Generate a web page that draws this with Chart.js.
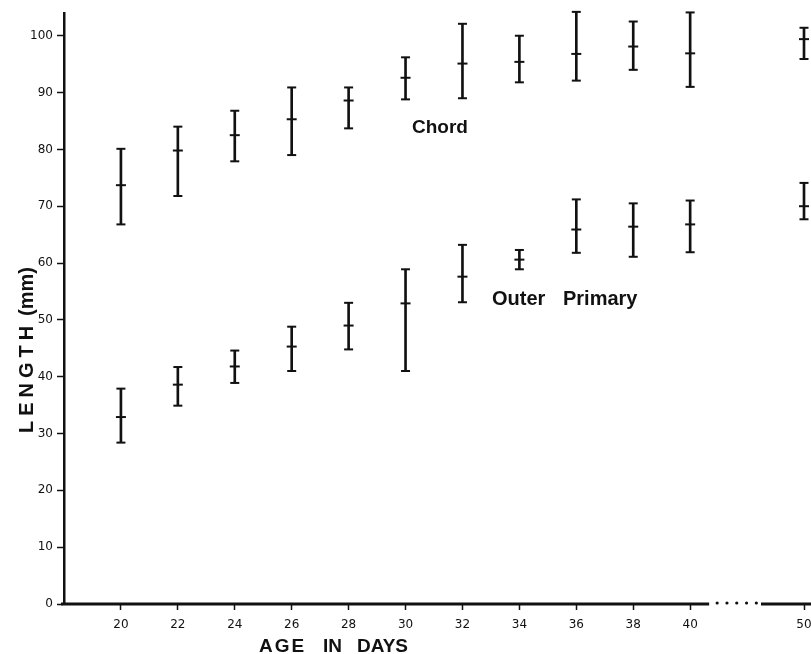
<!DOCTYPE html>
<html>
<head>
<meta charset="utf-8">
<script src="https://cdn.jsdelivr.net/npm/chart.js@4.4.0/dist/chart.umd.min.js"></script>
<style>
  html, body { margin: 0; padding: 0; background: #fff; }
  #wrap { width: 811px; height: 654px; }
</style>
</head>
<body>
<div id="wrap"><canvas id="c" width="811" height="654"></canvas></div>
<script>
// ---- data ----
const xLabels = ['', '20', '22', '24', '26', '28', '30', '32', '34', '36', '38', '40', '', '50'];
const days = ['20', '22', '24', '26', '28', '30', '32', '34', '36', '38', '40', '50'];

const chordMean = [73.7, 79.8, 82.5, 85.3, 88.6, 92.6, 95.1, 95.4, 96.8, 98.1, 96.9, 99.4];
const chordHigh = [80.1, 84.0, 86.8, 90.9, 90.9, 96.2, 102.1, 100.0, 104.2, 102.5, 104.1, 101.4];
const chordLow  = [66.8, 71.8, 77.9, 79.0, 83.7, 88.8, 89.0, 91.8, 92.1, 94.0, 91.0, 95.9];

const outerMean = [32.9, 38.6, 41.8, 45.3, 49.0, 52.9, 57.6, 60.6, 65.9, 66.4, 66.8, 70.0];
const outerHigh = [37.9, 41.7, 44.6, 48.8, 53.0, 58.9, 63.2, 62.3, 71.2, 70.5, 71.0, 74.1];
const outerLow  = [28.4, 34.9, 38.9, 41.0, 44.8, 41.0, 53.1, 58.9, 61.8, 61.1, 61.9, 67.7];

const yTicks = [0, 10, 20, 30, 40, 50, 60, 70, 80, 90, 100];

// ---- helpers building library data from the arrays ----
const rangePts = (lo, hi) => days.map((d, i) => ({ x: d, y: [lo[i], hi[i]] }));
const pts = (arr) => days.map((d, i) => ({ x: d, y: arr[i] }));
const capPts = (lo, hi) => pts(lo).concat(pts(hi));

const INK = '#111';

const pointSet = (data, r) => ({
  type: 'line', data, showLine: false, clip: false,
  pointStyle: 'line', pointRadius: r, pointHoverRadius: r,
  borderColor: INK, pointBorderColor: INK, pointBorderWidth: 2, backgroundColor: INK
});
const barSet = (data) => ({
  type: 'bar', data, grouped: false, barThickness: 2, clip: false,
  backgroundColor: INK, borderWidth: 0
});

const textPlugin = {
  id: 'textAndAxis',
  afterDraw(chart) {
    const ctx = chart.ctx;
    const xs = chart.scales.x;
    const area = chart.chartArea;
    ctx.save();
    // x-axis baseline with a dotted break between 40 and 50
    const y0 = area.bottom;
    const x40 = xs.getPixelForValue(11);
    const x50 = xs.getPixelForValue(13);
    ctx.strokeStyle = INK; ctx.fillStyle = INK;
    ctx.lineWidth = 3;
    ctx.beginPath();
    ctx.moveTo(area.left - 3, y0); ctx.lineTo(x40 + 19, y0);
    ctx.moveTo(x50 - 43, y0); ctx.lineTo(chart.width, y0);
    ctx.stroke();
    for (let k = 0; k < 5; k++) {
      ctx.beginPath();
      ctx.arc(x40 + 27 + k * 9.8, y0 - 1, 1.6, 0, Math.PI * 2);
      ctx.fill();
    }
    // series labels
    ctx.textAlign = 'left';
    ctx.textBaseline = 'alphabetic';
    ctx.font = 'bold 19px "Liberation Sans", Arial, sans-serif';
    ctx.fillText('Chord', 412, 133);
    ctx.font = 'bold 20px "Liberation Sans", Arial, sans-serif';
    ctx.fillText('Outer', 492, 305);
    ctx.fillText('Primary', 563, 305);
    // x axis title
    ctx.font = 'bold 19px "Liberation Sans", Arial, sans-serif';
    ctx.letterSpacing = '2px';
    ctx.fillText('AGE', 259, 652);
    ctx.letterSpacing = '0px';
    ctx.fillText('IN', 323, 652);
    ctx.fillText('DAYS', 357, 652);
    // y axis title
    ctx.translate(33, 433);
    ctx.rotate(-Math.PI / 2);
    ctx.font = 'bold 20px "Liberation Sans", Arial, sans-serif';
    ctx.letterSpacing = '5px';
    ctx.fillText('LENGTH', 0, 0);
    ctx.letterSpacing = '0px';
    ctx.fillText('(mm)', 117, 0);
    ctx.restore();
  }
};

new Chart(document.getElementById('c'), {
  type: 'bar',
  data: {
    labels: xLabels,
    datasets: [
      barSet(rangePts(chordLow, chordHigh)),
      barSet(rangePts(outerLow, outerHigh)),
      pointSet(capPts(chordLow, chordHigh), 4.5),
      pointSet(capPts(outerLow, outerHigh), 4.5),
      pointSet(pts(chordMean), 5),
      pointSet(pts(outerMean), 5)
    ]
  },
  options: {
    responsive: false,
    devicePixelRatio: 1,
    animation: false,
    events: [],
    layout: { padding: { top: 13, right: 5, left: 0, bottom: 0 } },
    plugins: { legend: { display: false }, tooltip: { enabled: false }, title: { display: false } },
    scales: {
      x: {
        type: 'category',
        offset: false,
        afterFit(s) { s.height = 50; s.paddingLeft = 0; s.paddingRight = 0; },
        border: { display: false },
        grid: {
          drawOnChartArea: false, drawTicks: true, tickLength: 6, tickWidth: 1.5,
          tickColor: (c) => (c.tick && c.tick.label !== '' ? INK : 'rgba(0,0,0,0)'),
          offset: false
        },
        ticks: {
          color: INK, padding: 8, maxRotation: 0, autoSkip: false,
          font: { family: '"DejaVu Sans", sans-serif', size: 12 }
        }
      },
      y: {
        type: 'linear',
        min: 0, max: 104,
        afterFit(s) { s.width = 64; s.paddingTop = 0; s.paddingBottom = 0; },
        afterBuildTicks(s) { s.ticks = yTicks.map(v => ({ value: v })); },
        border: { display: true, color: INK, width: 2.5 },
        grid: { drawOnChartArea: false, drawTicks: true, tickLength: 7, tickWidth: 1.5, tickColor: INK },
        ticks: {
          color: INK, padding: 4,
          font: { family: '"DejaVu Sans", sans-serif', size: 12 }
        }
      }
    }
  },
  plugins: [textPlugin]
});
</script>
</body>
</html>
